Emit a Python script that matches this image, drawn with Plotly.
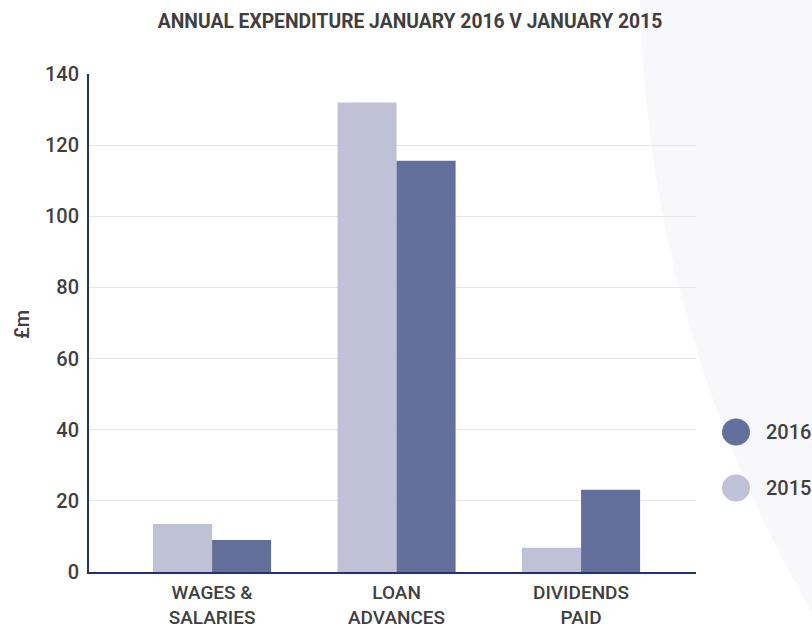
import plotly.graph_objects as go

categories = ["WAGES &<br>SALARIES", "LOAN<br>ADVANCES", "DIVIDENDS<br>PAID"]
values_2015 = [13.5, 132.0, 6.8]
values_2016 = [9.0, 115.6, 23.1]
colors = {"2015": "#bfc1d6", "2016": "#63709b"}

W, H = 812, 629
L, R, T, B = 89, 116, 74, 57
pw, ph = W - L - R, H - T - B

def px_x(p):
    return (p - L) / pw

def px_y(p):
    return (H - B - p) / ph

FONT = "Roboto, sans-serif"
TXT = "#3f3f3f"

fig = go.Figure()
for name, vals in (("2015", values_2015), ("2016", values_2016)):
    fig.add_trace(go.Bar(x=categories, y=vals, name=name,
                         marker=dict(color=colors[name], line=dict(width=0)),
                         showlegend=False))

shapes = []
# decorative background circle
cx, cy, rad = 1896, -22.6, 1256
shapes.append(dict(type="circle", xref="paper", yref="paper",
                   x0=px_x(cx - rad), x1=px_x(cx + rad),
                   y0=px_y(cy + rad), y1=px_y(cy - rad),
                   fillcolor="#f8f8fb", line=dict(width=0), layer="below"))

annotations = []
legend_items = [("2016", 432), ("2015", 488)]
for name, yc in legend_items:
    shapes.append(dict(type="circle", xref="paper", yref="paper",
                       xsizemode="pixel", ysizemode="pixel",
                       xanchor=px_x(736), yanchor=px_y(yc),
                       x0=-14, x1=14, y0=-13.5, y1=13.5,
                       fillcolor=colors[name], line=dict(width=0)))
    annotations.append(dict(text=name, xref="paper", yref="paper",
                            x=px_x(764), y=px_y(yc), xanchor="left", yanchor="middle",
                            showarrow=False,
                            font=dict(family=FONT, size=20, color=TXT, weight=500)))

annotations.append(dict(text="£m", xref="paper", yref="paper",
                        x=px_x(22), y=px_y(325), textangle=-90,
                        xanchor="center", yanchor="middle", showarrow=False,
                        font=dict(family=FONT, size=20, color=TXT, weight=500)))

fig.update_layout(
    width=W, height=H,
    margin=dict(l=L, r=R, t=T, b=B, pad=0, autoexpand=False),
    paper_bgcolor="white", plot_bgcolor="rgba(0,0,0,0)",
    barmode="group", bargap=0.36, bargroupgap=0,
    title=dict(text="<b>ANNUAL EXPENDITURE JANUARY 2016 V JANUARY 2015</b>",
               x=410 / W, xref="container", xanchor="center",
               y=1 - 21.5 / H, yref="container", yanchor="middle",
               font=dict(family=FONT, size=19.3, color=TXT)),
    shapes=shapes, annotations=annotations,
    showlegend=False,
)
fig.update_xaxes(type="category", range=[-0.667, 2.623], showgrid=False,
                 showline=True, linecolor="#1f3370", linewidth=2,
                 ticks="", automargin=False,
                 tickfont=dict(family=FONT, size=19, color=TXT, weight=500),
                 ticklabelstandoff=2)
fig.update_yaxes(range=[0, 140], dtick=20, showgrid=True, gridcolor="#e6e6e6",
                 gridwidth=1, zeroline=False, showline=True, linecolor="#1f3370",
                 linewidth=2, ticks="", ticklabelstandoff=4, automargin=False,
                 tickfont=dict(family=FONT, size=20, color=TXT, weight=500))

fig.write_html("out.html")
